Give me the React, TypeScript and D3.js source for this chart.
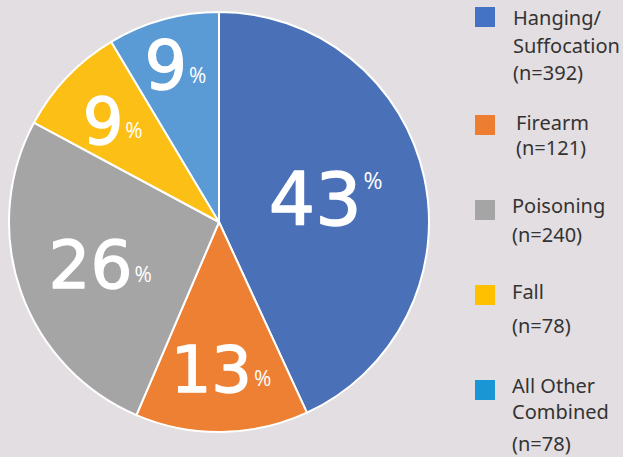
import React from "react";
import * as d3 from "d3";

const categories = ["Hanging/Suffocation", "Firearm", "Poisoning", "Fall", "All Other Combined"];
const counts = [392, 121, 240, 78, 78];
const percentLabels = ["43", "13", "26", "9", "9"];
const legendLines = [
  ["Hanging/", "Suffocation", "(n=392)"],
  ["Firearm", "(n=121)"],
  ["Poisoning", "(n=240)"],
  ["Fall", "(n=78)"],
  ["All Other", "Combined", "(n=78)"],
];

const W = 623;
const H = 457;
const BG = "#E3DEE1";
const sliceColors = ["#4A71B7", "#ED8032", "#A5A5A5", "#FBBF16", "#5B9BD5"];
const legendColors = ["#4472C4", "#ED7D31", "#A5A5A5", "#FFC000", "#1A96D5"];
// label placement (fraction of radius) and style per slice
const labelRadiusFrac = [0.52, 0.7, 0.6, 0.7, 0.78];
const labelSize = [73, 64, 66, 64, 67];
const pctSize = [23, 21, 21, 21, 21];
const pctSuper = [true, false, false, false, false];
// legend layout: square top, and line baselines relative to square top
const legendTop = [7, 115, 200, 285, 380];
const legendLineOffsets = [
  [18, 46, 73],
  [15, 40],
  [13, 42],
  [14, 48],
  [13, 39, 71],
];
const legendTextX = [513, 516, 512, 512, 512];

export default function App() {
  const cx = 219;
  const cy = 222;
  const R = 210;
  const pie = d3.pie<number>().sort(null).value((d) => d);
  const arcs = pie(counts);
  const arcGen = d3.arc<d3.PieArcDatum<number>>().innerRadius(0).outerRadius(R);

  return (
    <svg
      width={W}
      height={H}
      style={{ position: "absolute", left: 0, top: 0, background: BG }}
    >
      <rect x={0} y={0} width={W} height={H} fill={BG} />
      <g transform={`translate(${cx},${cy})`}>
        {arcs.map((a, i) => (
          <path
            key={categories[i]}
            d={arcGen(a) || ""}
            fill={sliceColors[i]}
            stroke="#fff"
            strokeWidth={2}
            strokeLinejoin="round"
          />
        ))}
        {arcs.map((a, i) => {
          const r = R * labelRadiusFrac[i];
          const lab = d3.arc<d3.PieArcDatum<number>>().innerRadius(r).outerRadius(r);
          const [x, y] = lab.centroid(a);
          const cap = labelSize[i] * 0.729;
          return (
            <text
              key={"l" + i}
              x={x}
              y={y + cap / 2}
              textAnchor="middle"
              fill="#fff"
              fontFamily="'DejaVu Sans', sans-serif"
              fontSize={labelSize[i]}
            >
              <tspan stroke="#fff" strokeWidth={1.3} strokeLinejoin="round">
                {percentLabels[i]}
              </tspan>
              <tspan
                fontSize={pctSize[i]}
                fontFamily="'Open Sans', sans-serif"
                dx={2}
                dy={pctSuper[i] ? -cap + pctSize[i] * 0.72 : -6}
              >
                %
              </tspan>
            </text>
          );
        })}
      </g>
      <g>
        {categories.map((c, i) => (
          <g key={"lg" + c}>
            <rect x={475} y={legendTop[i]} width={20} height={20} fill={legendColors[i]} />
            {legendLines[i].map((t, j) => (
              <text
                key={t + j}
                x={legendTextX[i]}
                y={legendTop[i] + legendLineOffsets[i][j]}
                fill="#333"
                fontFamily="'Noto Sans', sans-serif"
                fontSize={20}
              >
                {t}
              </text>
            ))}
          </g>
        ))}
      </g>
    </svg>
  );
}
